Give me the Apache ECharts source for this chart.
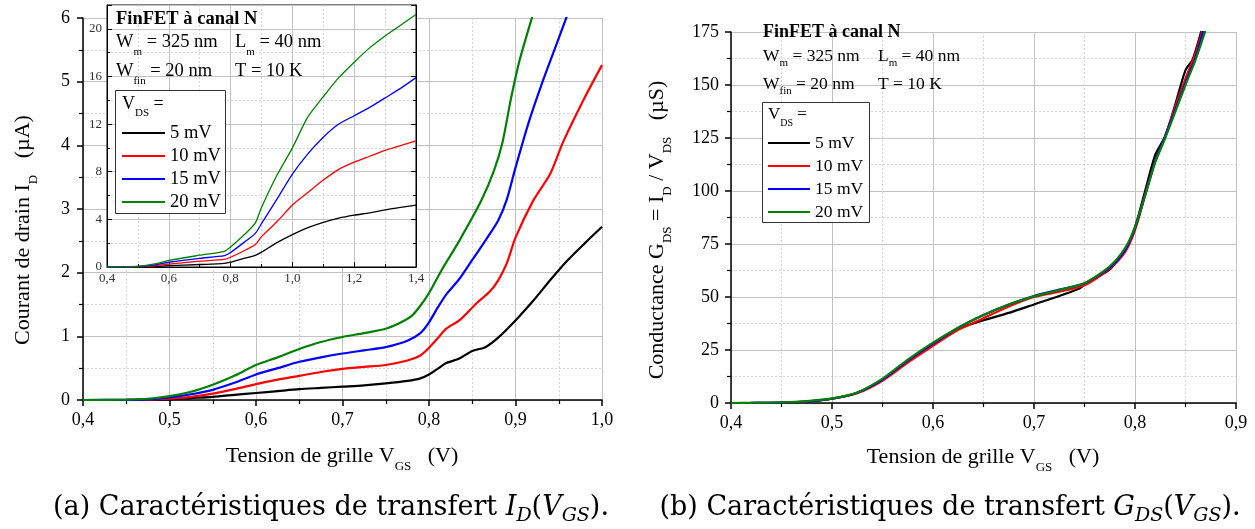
<!DOCTYPE html>
<html><head><meta charset="utf-8">
<script src="https://cdn.jsdelivr.net/npm/echarts@6/dist/echarts.min.js"></script>
<style>html,body{margin:0;padding:0;background:#fff}#c{width:1255px;height:529px}</style>
</head><body><div id="c"></div>
<script>
// ---------- DATA ----------
const seriesNames = ['5 mV', '10 mV', '15 mV', '20 mV'];
const seriesColors = ['#000000', '#ff0000', '#0000ff', '#008000'];

// axis ranges / tick steps
const mainX = [0.4, 1.0, 0.1];
const mainY = [0, 6, 1];
const insetX = [0.4, 1.4, 0.2];
const insetY = [0, 22, 4];
const rightX = [0.4, 0.9, 0.1];
const rightY = [0, 175, 25];

// (a) I_D (uA) vs V_GS (V) - main panel
const idMain5mV = [[0.40,0],[0.45,0],[0.475,0.003],[0.50,0.01],[0.525,0.03],[0.55,0.05],[0.575,0.08],[0.60,0.11],[0.625,0.14],[0.65,0.17],[0.675,0.19],[0.70,0.21],[0.725,0.23],[0.75,0.26],[0.775,0.30],[0.79,0.34],[0.80,0.40],[0.81,0.49],[0.82,0.58],[0.835,0.65],[0.85,0.77],[0.865,0.83],[0.88,0.98],[0.90,1.25],[0.92,1.55],[0.94,1.88],[0.96,2.19],[0.98,2.46],[1.00,2.72]];
const idMain10mV = [[0.40,0],[0.45,0.001],[0.475,0.005],[0.50,0.02],[0.525,0.05],[0.55,0.10],[0.575,0.17],[0.60,0.25],[0.625,0.32],[0.65,0.38],[0.675,0.44],[0.70,0.49],[0.725,0.52],[0.75,0.55],[0.775,0.62],[0.79,0.70],[0.80,0.82],[0.81,0.97],[0.82,1.12],[0.835,1.25],[0.855,1.52],[0.87,1.70],[0.88,1.88],[0.89,2.15],[0.90,2.55],[0.92,3.12],[0.94,3.55],[0.955,4.05],[0.98,4.75],[1.00,5.26]];
const idMain15mV = [[0.40,0],[0.45,0.002],[0.475,0.01],[0.50,0.04],[0.525,0.09],[0.55,0.16],[0.575,0.27],[0.60,0.40],[0.625,0.50],[0.65,0.60],[0.675,0.67],[0.70,0.73],[0.725,0.78],[0.75,0.83],[0.775,0.93],[0.79,1.05],[0.80,1.22],[0.81,1.45],[0.82,1.66],[0.835,1.90],[0.85,2.20],[0.865,2.50],[0.88,2.82],[0.89,3.15],[0.90,3.65],[0.915,4.35],[0.93,4.95],[0.945,5.50],[0.96,6.05],[0.97,6.4]];
const idMain20mV = [[0.40,0],[0.45,0.005],[0.475,0.02],[0.50,0.06],[0.525,0.13],[0.55,0.24],[0.575,0.38],[0.60,0.55],[0.625,0.67],[0.65,0.80],[0.675,0.91],[0.70,0.99],[0.725,1.05],[0.75,1.12],[0.765,1.20],[0.78,1.32],[0.79,1.48],[0.80,1.68],[0.815,2.05],[0.835,2.50],[0.86,3.12],[0.875,3.60],[0.885,4.05],[0.895,4.75],[0.905,5.35],[0.92,6.05],[0.93,6.5]];

// (a) inset, wide V_GS range
const idInset5mV = [[0.40,0],[0.45,0],[0.50,0.01],[0.55,0.05],[0.60,0.11],[0.70,0.21],[0.78,0.30],[0.80,0.40],[0.85,0.77],[0.88,0.98],[0.90,1.25],[0.95,2.05],[1.00,2.72],[1.05,3.3],[1.10,3.75],[1.15,4.1],[1.20,4.35],[1.25,4.55],[1.30,4.8],[1.35,5.0],[1.40,5.2]];
const idInset10mV = [[0.40,0],[0.45,0.001],[0.50,0.02],[0.55,0.10],[0.60,0.25],[0.70,0.49],[0.78,0.64],[0.80,0.82],[0.85,1.45],[0.88,1.88],[0.90,2.55],[0.95,3.8],[1.00,5.2],[1.05,6.25],[1.10,7.3],[1.15,8.2],[1.20,8.8],[1.25,9.3],[1.30,9.8],[1.35,10.2],[1.40,10.6]];
const idInset15mV = [[0.40,0],[0.45,0.002],[0.50,0.04],[0.55,0.16],[0.60,0.40],[0.70,0.73],[0.78,0.96],[0.80,1.22],[0.85,2.2],[0.88,2.82],[0.90,3.65],[0.95,5.7],[1.00,7.8],[1.05,9.5],[1.10,10.9],[1.15,12.0],[1.20,12.7],[1.25,13.4],[1.30,14.2],[1.35,15.0],[1.40,15.9]];
const idInset20mV = [[0.40,0],[0.45,0.005],[0.50,0.06],[0.55,0.24],[0.60,0.55],[0.70,0.99],[0.78,1.32],[0.80,1.68],[0.85,2.85],[0.88,3.7],[0.90,5.0],[0.95,7.7],[1.00,10.0],[1.05,12.6],[1.10,14.3],[1.15,15.9],[1.20,17.2],[1.25,18.4],[1.30,19.4],[1.35,20.3],[1.40,21.2]];

// (b) G_DS (uS) vs V_GS (V)
const gds5mV = [[0.45,0.2],[0.475,0.7],[0.50,2.0],[0.525,4.8],[0.55,11.0],[0.575,20.0],[0.60,28.0],[0.625,35.0],[0.65,39.0],[0.675,42.5],[0.70,46.5],[0.725,50.5],[0.745,54.0],[0.752,56.5],[0.775,63.0],[0.79,72.0],[0.80,83.0],[0.81,100.0],[0.82,117.0],[0.83,126.0],[0.84,141.0],[0.85,157.0],[0.857,162.0],[0.866,176.0]];
const gds10mV = [[0.42,0.05],[0.45,0.2],[0.475,0.7],[0.50,2.0],[0.525,4.6],[0.55,10.5],[0.575,19.0],[0.60,27.0],[0.625,34.5],[0.65,40.0],[0.675,45.5],[0.70,50.0],[0.725,52.5],[0.75,55.5],[0.775,63.5],[0.79,71.0],[0.80,81.5],[0.81,98.0],[0.82,114.0],[0.83,126.0],[0.84,140.0],[0.85,153.0],[0.86,165.0],[0.867,176.0]];
const gds15mV = [[0.42,0.05],[0.45,0.2],[0.475,0.7],[0.50,2.0],[0.525,4.8],[0.55,11.0],[0.575,20.0],[0.60,28.0],[0.625,35.5],[0.65,41.5],[0.675,46.5],[0.70,50.5],[0.725,53.5],[0.75,56.5],[0.775,64.0],[0.79,72.0],[0.80,82.5],[0.81,98.0],[0.82,114.0],[0.83,126.0],[0.84,138.5],[0.85,151.0],[0.86,163.0],[0.868,176.0]];
const gds20mV = [[0.40,0],[0.42,0.1],[0.45,0.3],[0.475,0.9],[0.50,2.2],[0.525,5.0],[0.55,11.5],[0.575,20.5],[0.60,28.5],[0.625,35.5],[0.65,41.5],[0.675,46.5],[0.70,50.3],[0.725,53.3],[0.75,56.5],[0.775,64.5],[0.79,73.0],[0.80,83.0],[0.81,98.0],[0.82,113.5],[0.83,125.0],[0.84,137.5],[0.85,150.0],[0.86,162.0],[0.87,176.0]];

// ---------- CHART ----------
const FF = 'Liberation Serif';
const CAPF = 'DejaVu Serif';
const comma = v => (Math.round(v * 10) / 10).toFixed(1).replace('.', ',');

function mainAxis(o) {
  return Object.assign({
    type: 'value',
    axisLine: { show: true, onZero: false, lineStyle: { color: '#000', width: 1.5 } },
    axisTick: { show: true, inside: false, length: 6, lineStyle: { color: '#000', width: 1.5 } },
    minorTick: { show: true, splitNumber: 2, length: 4, lineStyle: { color: '#000', width: 1.2 } },
    axisLabel: { fontFamily: FF, fontSize: 18, color: '#000', margin: 11 },
    splitLine: { show: true, lineStyle: { color: '#c2c2c2', width: 1 } },
    minorSplitLine: { show: true, lineStyle: { color: '#d6d6d6', width: 1, type: [2, 2] } }
  }, o);
}
function insetAxis(o) {
  return Object.assign({
    type: 'value', gridIndex: 1, z: 6,
    axisLine: { show: true, onZero: false, lineStyle: { color: '#000', width: 1 } },
    axisTick: { show: true, inside: true, length: 5, lineStyle: { color: '#000', width: 1 } },
    minorTick: { show: true, splitNumber: 2, length: 3, lineStyle: { color: '#000', width: 1 } },
    axisLabel: { fontFamily: FF, fontSize: 13, color: '#333', margin: 6 },
    splitLine: { show: true, lineStyle: { color: '#c2c2c2', width: 1 } },
    minorSplitLine: { show: true, lineStyle: { color: '#d6d6d6', width: 1, type: [2, 2] } }
  }, o);
}

const xAxis = [
  mainAxis({ gridIndex: 0, min: mainX[0], max: mainX[1], interval: mainX[2],
    axisLabel: { fontFamily: FF, fontSize: 18, color: '#000', margin: 11, formatter: comma } }),
  insetAxis({ min: insetX[0], max: insetX[1], interval: insetX[2],
    axisLabel: { fontFamily: FF, fontSize: 13, color: '#333', margin: 5, formatter: comma } }),
  mainAxis({ gridIndex: 2, min: rightX[0], max: rightX[1], interval: rightX[2],
    axisLabel: { fontFamily: FF, fontSize: 18, color: '#000', margin: 11, formatter: comma } })
];
const yAxis = [
  mainAxis({ gridIndex: 0, min: mainY[0], max: mainY[1], interval: mainY[2],
    axisLabel: { fontFamily: FF, fontSize: 18, color: '#000', margin: 13 } }),
  insetAxis({ min: insetY[0], max: insetY[1], interval: insetY[2],
    axisLabel: { fontFamily: FF, fontSize: 13, color: '#333', margin: 5, showMaxLabel: false } }),
  insetAxis({ min: insetY[0], max: insetY[1], interval: insetY[2], position: 'right',
    axisLabel: { show: false }, splitLine: { show: false }, minorSplitLine: { show: false } }),
  mainAxis({ gridIndex: 2, min: rightY[0], max: rightY[1], interval: rightY[2],
    axisLabel: { fontFamily: FF, fontSize: 18, color: '#000', margin: 12 } })
];

const series = [];
const mainSets = [idMain5mV, idMain10mV, idMain15mV, idMain20mV];
const insetSets = [idInset5mV, idInset10mV, idInset15mV, idInset20mV];
const rightSets = [gds5mV, gds10mV, gds15mV, gds20mV];
seriesNames.forEach((name, i) => {
  series.push({ type: 'line', name, data: mainSets[i], xAxisIndex: 0, yAxisIndex: 0,
    showSymbol: false, smooth: 0.25, color: seriesColors[i], lineStyle: { width: 2.2, color: seriesColors[i] }, z: 3 });
  series.push({ type: 'line', name, data: insetSets[i], xAxisIndex: 1, yAxisIndex: 1,
    showSymbol: false, smooth: 0.25, color: seriesColors[i], lineStyle: { width: 1.3, color: seriesColors[i] }, z: 7 });
  series.push({ type: 'line', name, data: rightSets[i], xAxisIndex: 2, yAxisIndex: 3,
    showSymbol: false, smooth: 0.25, color: seriesColors[i], lineStyle: { width: 2.2, color: seriesColors[i] }, z: 3 });
});

function txt(x, y, text, size, o) {
  o = o || {};
  const fam = o.family || FF;
  const lh = Math.round(size * (o.lhf || 1.65));
  const sl = Math.round(size * (o.slf || 0.4));
  return {
    type: 'text', x, y, rotation: o.rot || 0, z: o.z || 12, silent: true,
    style: {
      text, fontFamily: fam, fontSize: size, fontWeight: o.bold ? 'bold' : 'normal',
      fill: '#000', align: o.align || 'left', verticalAlign: 'middle', lineHeight: lh,
      rich: {
        s: { fontFamily: fam, fontSize: Math.round(size * 0.6), lineHeight: sl, verticalAlign: 'bottom', fill: '#000' },
        i: { fontFamily: fam, fontSize: size, fontStyle: 'italic', lineHeight: lh, fill: '#000' },
        is: { fontFamily: fam, fontSize: Math.round(size * 0.7), fontStyle: 'italic', lineHeight: sl, verticalAlign: 'bottom', fill: '#000' }
      }
    }
  };
}

const graphic = [
  // inset annotations
  txt(116, 19, 'FinFET à canal N', 18.5, { bold: true }),
  txt(116, 42, 'W{s|m} = 325 nm', 18.5),
  txt(235, 42, 'L{s|m} = 40 nm', 18.5),
  txt(116, 71, 'W{s|fin} = 20 nm', 18.5),
  txt(235, 71, 'T = 10 K', 18.5),
  { type: 'rect', z: 10, silent: true, shape: { x: 115.5, y: 90.5, width: 110, height: 123 },
    style: { fill: '#fff', stroke: '#333', lineWidth: 1 } },
  txt(122, 104, 'V{s|DS} =', 18, { z: 11 }),
  // right panel annotations
  txt(763, 32, 'FinFET à canal N', 18, { bold: true }),
  txt(763, 56, 'W{s|m} = 325 nm', 17.5, { lhf: 1.5, slf: 0.45 }),
  txt(878, 56, 'L{s|m} = 40 nm', 17.5, { lhf: 1.5, slf: 0.45 }),
  txt(763, 84, 'W{s|fin} = 20 nm', 17.5, { lhf: 1.5, slf: 0.45 }),
  txt(878, 84, 'T = 10 K', 17.5, { lhf: 1.5, slf: 0.45 }),
  { type: 'rect', z: 10, silent: true, shape: { x: 762.5, y: 102.5, width: 107, height: 120 },
    style: { fill: '#fff', stroke: '#333', lineWidth: 1 } },
  txt(768, 115, 'V{s|DS} =', 17, { z: 11, lhf: 1.55, slf: 0.45 }),
  // axis titles
  txt(23, 230, 'Courant de drain I{s|D}   (µA)', 22, { rot: Math.PI / 2, align: 'center', lhf: 1.55 }),
  txt(657, 230, 'Conductance G{s|DS} = I{s|D} / V{s|DS}   (µS)', 22, { rot: Math.PI / 2, align: 'center', lhf: 1.55 }),
  txt(342, 456, 'Tension de grille V{s|GS}   (V)', 22, { align: 'center', lhf: 1.55 }),
  txt(983, 457, 'Tension de grille V{s|GS}   (V)', 22, { align: 'center', lhf: 1.55 }),
  // captions
  txt(331, 508, '(a) Caractéristiques de transfert {i|I}{is|D}({i|V}{is|GS}).', 27, { family: CAPF, align: 'center', lhf: 1.3, slf: 0.75 }),
  txt(950, 508, '(b) Caractéristiques de transfert {i|G}{is|DS}({i|V}{is|GS}).', 27, { family: CAPF, align: 'center', lhf: 1.3, slf: 0.75 })
];

const legendBase = {
  data: seriesNames, orient: 'vertical', icon: 'rect', itemGap: 0, padding: 0,
  selectedMode: false, z: 20, inactiveColor: '#000'
};

const option = {
  animation: false,
  backgroundColor: '#fff',
  textStyle: { fontFamily: FF },
  grid: [
    { left: 83, top: 18, width: 519, height: 382, outerBoundsMode: 'none', containLabel: false },
    { left: 107, top: 5, width: 309, height: 262, outerBoundsMode: 'none', containLabel: false,
      show: true, backgroundColor: '#fff', borderColor: '#000', borderWidth: 1, z: 5 },
    { left: 731, top: 32, width: 505, height: 371, outerBoundsMode: 'none', containLabel: false }
  ],
  xAxis, yAxis, series, graphic,
  legend: [
    Object.assign({}, legendBase, { left: 122, top: 121.5, itemWidth: 43, itemHeight: 2,
      textStyle: { fontFamily: FF, fontSize: 18.5, lineHeight: 23, color: '#000' } }),
    Object.assign({}, legendBase, { left: 768, top: 131.5, itemWidth: 42, itemHeight: 2,
      textStyle: { fontFamily: FF, fontSize: 17.5, lineHeight: 23, color: '#000' } })
  ]
};

const chart = echarts.init(document.getElementById('c'), null, { renderer: 'canvas' });
chart.setOption(option);
</script>
</body></html>
